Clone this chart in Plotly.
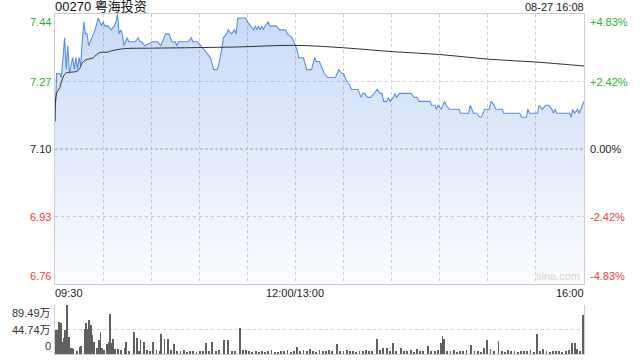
import plotly.graph_objects as go

# ---------------- data ----------------
title_text = "00270 粤海投资"
stamp_text = "08-27 16:08"
prev_close = 7.10
price_ticks = [7.44, 7.27, 7.10, 6.93, 6.76]
pct_ticks = ["+4.83%", "+2.42%", "0.00%", "-2.42%", "-4.83%"]
vol_ticks = [89.49, 44.74, 0]
vol_tick_text = ["89.49万", "44.74万", "0"]
x_labels = ["09:30", "12:00/13:00", "16:00"]

price_times = [
    "09:30", "09:31", "09:33", "09:34", "09:36", "09:37", "09:38", "09:39", "09:41", "09:42",
    "09:43", "09:44", "09:45", "09:46", "09:47", "09:48", "09:49", "09:50", "09:51", "09:53",
    "09:54", "09:55", "09:57", "09:58", "09:59", "10:00", "10:01", "10:03", "10:05", "10:07",
    "10:08", "10:09", "10:10", "10:11", "10:12", "10:13", "10:15", "10:16", "10:18", "10:20",
    "10:22", "10:23", "10:24", "10:26", "10:31", "10:34", "10:36", "10:37", "10:39", "10:41",
    "10:43", "10:45", "10:46", "10:47", "10:49", "10:51", "10:53", "10:55", "10:56", "10:59",
    "11:01", "11:03", "11:05", "11:07", "11:09", "11:11", "11:12", "11:14", "11:15", "11:17",
    "11:18", "11:20", "11:22", "11:23", "11:24", "11:29", "11:30", "11:32", "11:34", "11:35",
    "11:36", "11:37", "11:38", "11:39", "11:40", "11:41", "11:43", "11:44", "11:46", "11:48",
    "11:50", "11:54", "11:55", "11:58", "11:59",
    "13:01", "13:02", "13:05", "13:07", "13:10", "13:12", "13:13", "13:14", "13:15", "13:16",
    "13:18", "13:20", "13:22", "13:25", "13:27", "13:29", "13:30", "13:32", "13:34", "13:35",
    "13:39", "13:41", "13:42", "13:43", "13:45", "13:47", "13:49", "13:51", "13:53", "13:54",
    "13:55", "13:57", "13:58", "13:59", "14:01", "14:02", "14:03", "14:05", "14:12", "14:14",
    "14:16", "14:17", "14:24", "14:25", "14:27", "14:28", "14:29", "14:31", "14:33", "14:34",
    "14:36", "14:42", "14:43", "14:48", "14:49", "14:50", "14:51", "14:53", "14:55", "14:56",
    "14:58", "15:01", "15:02", "15:04", "15:05", "15:09", "15:10", "15:20", "15:21", "15:24",
    "15:25", "15:26", "15:31", "15:32", "15:34", "15:36", "15:38", "15:40", "15:41", "15:42",
    "15:43", "15:51", "15:52", "15:53", "15:54", "15:56", "15:57", "15:59", "16:00",
]
price_vals = [
    7.17, 7.29, 7.29, 7.28, 7.38, 7.30, 7.36, 7.29, 7.33, 7.30,
    7.33, 7.30, 7.33, 7.31, 7.37, 7.42, 7.39, 7.39, 7.36, 7.38,
    7.39, 7.40, 7.43, 7.42, 7.41, 7.42, 7.41, 7.41, 7.40, 7.41,
    7.42, 7.44, 7.39, 7.40, 7.39, 7.36, 7.38, 7.37, 7.37, 7.37,
    7.38, 7.37, 7.37, 7.36, 7.37, 7.37, 7.36, 7.37, 7.39, 7.39,
    7.37, 7.37, 7.36, 7.37, 7.37, 7.37, 7.37, 7.38, 7.37, 7.37,
    7.36, 7.35, 7.34, 7.33, 7.30, 7.30, 7.31, 7.35, 7.38, 7.39,
    7.40, 7.39, 7.40, 7.39, 7.43, 7.43, 7.42, 7.41, 7.40, 7.41,
    7.40, 7.41, 7.40, 7.41, 7.40, 7.41, 7.42, 7.41, 7.41, 7.41,
    7.40, 7.40, 7.39, 7.38, 7.37,
    7.35, 7.33, 7.33, 7.30, 7.30, 7.33, 7.32, 7.32, 7.32, 7.31,
    7.29, 7.28, 7.28, 7.28, 7.30, 7.29, 7.29, 7.27, 7.26, 7.25,
    7.25, 7.23, 7.24, 7.24, 7.23, 7.23, 7.24, 7.25, 7.24, 7.24,
    7.22, 7.22, 7.23, 7.22, 7.23, 7.24, 7.23, 7.24, 7.24, 7.23,
    7.23, 7.22, 7.22, 7.21, 7.21, 7.20, 7.21, 7.20, 7.22, 7.21,
    7.20, 7.20, 7.19, 7.19, 7.21, 7.20, 7.19, 7.19, 7.18, 7.18,
    7.20, 7.20, 7.22, 7.21, 7.20, 7.20, 7.19, 7.19, 7.18, 7.18,
    7.20, 7.19, 7.19, 7.21, 7.20, 7.21, 7.21, 7.20, 7.19, 7.20,
    7.19, 7.19, 7.18, 7.20, 7.19, 7.20, 7.19, 7.21, 7.22,
]

avg_times = ["09:30", "09:31", "09:33", "09:34", "09:36", "09:37", "09:43", "09:45", "09:47",
             "09:49", "09:54", "09:56", "09:58", "10:03", "10:05", "10:10", "10:14", "10:31",
             "10:51", "11:24", "11:59", "13:30", "14:01", "14:30", "15:01", "15:30", "16:00"]
avg_vals = [7.17, 7.24, 7.255, 7.27, 7.288, 7.292, 7.295, 7.30, 7.317,
            7.324, 7.330, 7.338, 7.343, 7.344, 7.347, 7.351, 7.353, 7.354,
            7.355, 7.357, 7.361, 7.355, 7.345, 7.338, 7.326, 7.319, 7.309]

vol_times = [
    "09:30", "09:31", "09:32", "09:33", "09:34", "09:35", "09:36", "09:37", "09:38", "09:39",
    "09:40", "09:41", "09:43", "09:45", "09:46", "09:48", "09:49", "09:50", "09:51", "09:52",
    "09:53", "09:54", "09:56", "09:57", "09:58", "09:59", "10:00", "10:02", "10:03", "10:04",
    "10:05", "10:06", "10:07", "10:09", "10:11", "10:13", "10:14", "10:16", "10:19", "10:21",
    "10:22", "10:23", "10:25", "10:27", "10:29", "10:31", "10:33", "10:35", "10:36", "10:38",
    "10:40", "10:42", "10:44", "10:46", "10:48", "10:50", "10:52", "10:54", "10:56", "10:58",
    "11:00", "11:02", "11:04", "11:06", "11:08", "11:10", "11:12", "11:15", "11:18", "11:20",
    "11:22", "11:25", "11:27", "11:29", "11:31", "11:33", "11:35", "11:37", "11:39", "11:41",
    "11:43", "11:45", "11:47", "11:49", "11:51", "11:53", "11:55", "11:57", "11:59",
    "13:01", "13:03", "13:05", "13:07", "13:09", "13:11", "13:13", "13:15", "13:17", "13:19",
    "13:21", "13:23", "13:26", "13:28", "13:30", "13:32", "13:34", "13:36", "13:38", "13:40",
    "13:42", "13:44", "13:46", "13:48", "13:51", "13:53", "13:55", "13:57", "13:59", "14:01",
    "14:03", "14:06", "14:08", "14:10", "14:12", "14:14", "14:16", "14:18", "14:20", "14:23",
    "14:25", "14:27", "14:29", "14:31", "14:32", "14:33", "14:35", "14:37", "14:39", "14:41",
    "14:43", "14:45", "14:47", "14:50", "14:52", "14:54", "14:56", "14:58", "15:00", "15:02",
    "15:04", "15:07", "15:09", "15:11", "15:13", "15:15", "15:17", "15:19", "15:21", "15:23",
    "15:25", "15:27", "15:29", "15:31", "15:33", "15:35", "15:37", "15:39", "15:41", "15:43",
    "15:45", "15:47", "15:49", "15:51", "15:53", "15:55", "15:56", "15:58", "16:00",
]
vol_vals = [
    44, 43, 59, 57, 22, 30, 44, 89.49, 31, 11,
    11, 9, 6, 12, 14, 45, 57, 45, 63, 53,
    34, 22, 11, 25, 40, 11, 8, 18, 22, 73,
    20, 27, 9, 9, 7, 11, 22, 6, 40, 30,
    5, 25, 22, 8, 6, 22, 8, 5, 36, 27,
    27, 7, 18, 6, 5, 7, 4, 6, 5, 4,
    6, 5, 20, 6, 22, 5, 7, 25, 25, 6,
    5, 47, 8, 7, 6, 4, 5, 3, 6, 4,
    5, 7, 4, 3, 6, 5, 8, 4, 6,
    12, 6, 8, 5, 10, 6, 4, 7, 5, 6,
    8, 5, 18, 6, 5, 7, 6, 5, 4, 6,
    5, 7, 6, 5, 27, 8, 11, 11, 6, 21,
    5, 11, 6, 5, 7, 4, 9, 6, 5, 14,
    6, 5, 7, 20, 32, 27, 6, 5, 7, 4,
    6, 5, 7, 16, 5, 6, 4, 11, 25, 9,
    5, 24, 6, 4, 7, 5, 6, 4, 5, 6,
    5, 7, 4, 36, 6, 9, 5, 4, 6, 5,
    6, 4, 5, 7, 20, 20, 9, 6, 71,
]


# ---------------- helpers ----------------
def tpos(s):
    h, m = map(int, s.split(":"))
    mins = h * 60 + m
    if mins <= 12 * 60:
        return mins - (9 * 60 + 30)
    return 150 + mins - 13 * 60


px = [tpos(s) for s in price_times]
ax = [tpos(s) for s in avg_times]
vx = [tpos(s) for s in vol_times]
x_label_pos = [0, 150, 330]
x_grid = list(range(0, 331, 30))

FONT = "Liberation Sans, Arial, Noto Sans CJK SC, sans-serif"
GREEN = "#2fae2f"
RED = "#f03c3c"
GRID = "#cfcfcf"

fig = go.Figure()

fig.add_trace(go.Scatter(
    x=px, y=price_vals, mode="lines",
    line=dict(color="#5b8fe8", width=1.1),
    fill="tozeroy",
    fillgradient=dict(type="vertical", start=price_ticks[-1], stop=price_ticks[0],
                      colorscale=[[0, "rgba(60,120,225,0.02)"], [1, "rgba(60,120,225,0.28)"]]),
    xaxis="x", yaxis="y", hoverinfo="skip", showlegend=False,
))
fig.add_trace(go.Scatter(
    x=ax, y=avg_vals, mode="lines", line=dict(color="#333333", width=1, shape="spline"),
    xaxis="x", yaxis="y", hoverinfo="skip", showlegend=False,
))
fig.add_trace(go.Bar(
    x=vx, y=vol_vals, marker=dict(color="#606060", line=dict(width=0)), width=0.55,
    xaxis="x2", yaxis="y2", hoverinfo="skip", showlegend=False,
))

fig.update_layout(
    width=640, height=360,
    margin=dict(l=55, r=56, t=14, b=6),
    paper_bgcolor="white", plot_bgcolor="white",
    font=dict(family=FONT, size=11, color="#222"),
    xaxis=dict(domain=[0, 1], range=[0, 330], tickvals=x_grid, showticklabels=False,
               ticks="", showgrid=True, gridcolor=GRID, griddash="dot", gridwidth=1,
               showline=True, linecolor=GRID, linewidth=1, mirror=True, zeroline=False,
               anchor="y"),
    yaxis=dict(domain=[0.2059, 1], range=[price_ticks[-1], price_ticks[0]],
               tickvals=[price_ticks[1], price_ticks[3]], showticklabels=False, ticks="",
               showgrid=True, gridcolor=GRID, griddash="dot", gridwidth=1,
               showline=True, linecolor=GRID, linewidth=1, mirror=True, zeroline=False,
               anchor="x"),
    xaxis2=dict(domain=[0, 1], range=[-0.5, 330.5], showticklabels=False, ticks="",
                showgrid=False, showline=True, linecolor=GRID, linewidth=1, zeroline=False,
                anchor="y2"),
    yaxis2=dict(domain=[0, 0.1441], range=[0, vol_ticks[0]], tickvals=vol_ticks[:2],
                showticklabels=False, ticks="", showgrid=True, gridcolor=GRID,
                griddash="dot", showline=True, linecolor=GRID, linewidth=1, mirror=True,
                zeroline=False, anchor="x2"),
    bargap=0,
)

# prev close reference line
fig.add_shape(type="line", xref="x domain", yref="y", x0=0, x1=1, y0=prev_close, y1=prev_close,
              line=dict(color="#aaaaaa", width=1, dash="3px,2px"), layer="below")

ann = []
# title & stamp
ann.append(dict(text=title_text, xref="paper", yref="paper", x=0, y=1, xanchor="left",
                yanchor="bottom", yshift=-2, xshift=-2, showarrow=False,
                font=dict(size=13, color="#111")))
ann.append(dict(text=stamp_text, xref="paper", yref="paper", x=1, y=1, xanchor="right",
                yanchor="bottom", yshift=-1, xshift=2, showarrow=False,
                font=dict(size=11, color="#222")))

# price / pct labels
price_colors = [GREEN, GREEN, "#222", RED, RED]
for i, (p, pt, c) in enumerate(zip(price_ticks, pct_ticks, price_colors)):
    ya = "top" if i == 0 else ("bottom" if i == len(price_ticks) - 1 else "middle")
    ann.append(dict(text=f"{p:.2f}", xref="paper", yref="y", x=0, y=p, xanchor="right",
                    yanchor=ya, xshift=-2, showarrow=False, font=dict(size=11, color=c)))
    ann.append(dict(text=pt, xref="paper", yref="y", x=1, y=p, xanchor="left",
                    yanchor=ya, xshift=4, showarrow=False, font=dict(size=11, color=c)))

# x labels
for lab, pos, anc in zip(x_labels, x_label_pos, ["left", "center", "right"]):
    ann.append(dict(text=lab, xref="x", yref="y domain", x=pos, y=0, xanchor=anc,
                    yanchor="top", yshift=-1, xshift=(-2 if anc == "left" else (2 if anc == "right" else 0)),
                    showarrow=False, font=dict(size=11, color="#222")))

# volume labels
for i, (v, vt) in enumerate(zip(vol_ticks, vol_tick_text)):
    ya = "top" if i == 0 else ("bottom" if i == len(vol_ticks) - 1 else "middle")
    ann.append(dict(text=vt, xref="paper", yref="y2", x=0, y=v, xanchor="right", yanchor=ya,
                    xshift=-2, showarrow=False, font=dict(size=11, color="#333")))

# watermark
ann.append(dict(text="sina.com", xref="x domain", yref="y domain", x=1, y=0, xanchor="right",
                yanchor="bottom", xshift=-2, showarrow=False,
                font=dict(size=11, color="#d6d6d6")))

fig.update_layout(annotations=ann)

fig.write_html("out.html")
